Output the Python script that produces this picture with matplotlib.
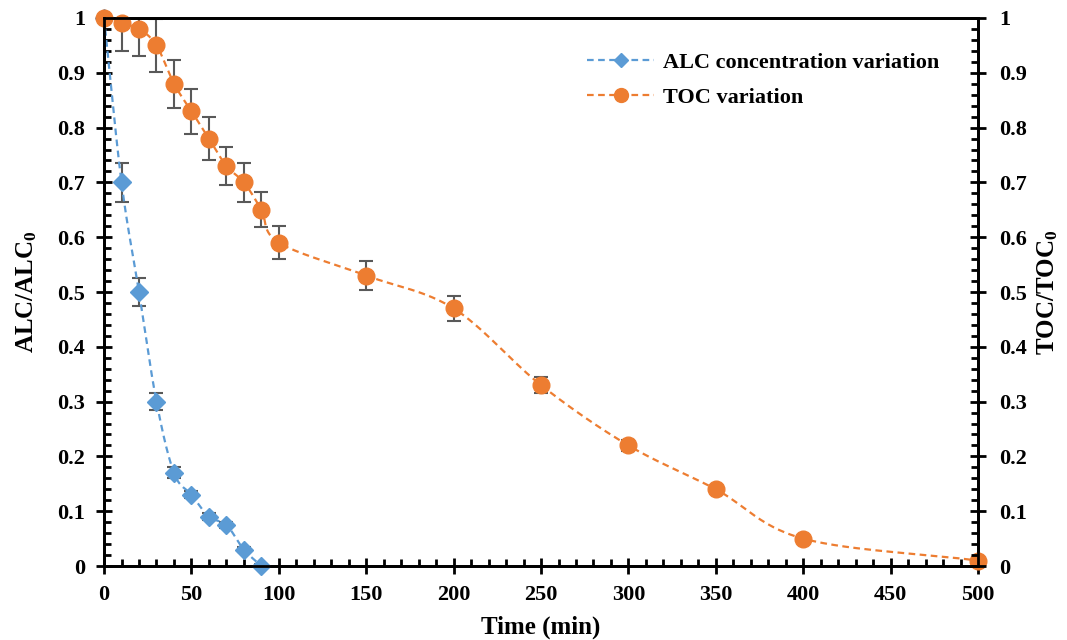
import numpy as np
import matplotlib
matplotlib.use("Agg")
import matplotlib.pyplot as plt
from matplotlib.ticker import MultipleLocator

# ---- données ----
t_alc = [0, 10, 20, 30, 40, 50, 60, 70, 80, 90]
alc = [1.0, 0.70, 0.50, 0.30, 0.17, 0.13, 0.09, 0.075, 0.03, 0.0]
alc_err = [0.0, 0.035, 0.025, 0.015, 0.01, 0.006, 0.006, 0.006, 0.005, 0.004]

t_toc = [0, 10, 20, 30, 40, 50, 60, 70, 80, 90, 100, 150, 200, 250, 300, 350, 400, 500]
toc = [1.0, 0.99, 0.98, 0.95, 0.88, 0.83, 0.78, 0.73, 0.70, 0.65, 0.59,
       0.53, 0.47, 0.33, 0.22, 0.14, 0.05, 0.01]
toc_err = [0.0, 0.05, 0.05, 0.048, 0.044, 0.041, 0.039, 0.035, 0.035, 0.032, 0.03,
           0.026, 0.023, 0.015, 0.01, 0.0, 0.0, 0.0]

BLUE = "#5B9BD5"
ORANGE = "#ED7D31"
GREY = "#595959"

plt.rcParams["font.family"] = ["Liberation Serif", "DejaVu Serif"]
plt.rcParams["font.weight"] = "bold"
plt.rcParams["mathtext.fontset"] = "custom"
plt.rcParams["mathtext.rm"] = "Liberation Serif:bold"
plt.rcParams["mathtext.it"] = "Liberation Serif:bold"
plt.rcParams["mathtext.bf"] = "Liberation Serif:bold"


def lisse(x, y, n=30):
    # courbe lissée type Excel (Catmull-Rom) pour le tracé seulement
    x = np.asarray(x, float)
    y = np.asarray(y, float)
    px = np.concatenate([[2 * x[0] - x[1]], x, [2 * x[-1] - x[-2]]])
    py = np.concatenate([[2 * y[0] - y[1]], y, [2 * y[-1] - y[-2]]])
    xs, ys = [], []
    s = np.linspace(0, 1, n)
    for i in range(1, len(px) - 2):
        for arr, out in ((px, xs), (py, ys)):
            p0, p1, p2, p3 = arr[i - 1], arr[i], arr[i + 1], arr[i + 2]
            c = 0.5 * ((2 * p1) + (-p0 + p2) * s + (2 * p0 - 5 * p1 + 4 * p2 - p3) * s ** 2
                       + (-p0 + 3 * p1 - 3 * p2 + p3) * s ** 3)
            out.extend(c)
    return np.array(xs), np.array(ys)


fig = plt.figure(figsize=(10.67, 6.4), dpi=100)
ax = fig.add_axes([0.0975, 0.1156, 0.8191, 0.8563])

xa, ya = lisse(t_alc, alc)
xt, yt = lisse(t_toc, toc)

ax.errorbar(t_toc, toc, yerr=toc_err, fmt="none", ecolor=GREY, elinewidth=1.5,
            capsize=5, capthick=1.5, zorder=2)
ax.errorbar(t_alc, alc, yerr=alc_err, fmt="none", ecolor=GREY, elinewidth=1.5,
            capsize=5, capthick=1.5, zorder=2)

ax.plot(xa, ya, color=BLUE, ls=(0, (3, 2)), lw=1.6, zorder=3)
ax.plot(xt, yt, color=ORANGE, ls=(0, (3, 2)), lw=1.6, zorder=3)
ax.plot(t_alc, alc, ls="none", marker="D", ms=9, color=BLUE, zorder=4, clip_on=False)
ax.plot(t_toc, toc, ls="none", marker="o", ms=12, color=ORANGE, zorder=5, clip_on=False)

# entrées de légende
ax.plot([], [], color=BLUE, ls=(0, (3, 2)), lw=1.6, marker="D", ms=7,
        label="ALC concentration variation")
ax.plot([], [], color=ORANGE, ls=(0, (3, 2)), lw=1.6, marker="o", ms=10,
        label="TOC variation")

ax.set_xlim(0, 500)
ax.set_ylim(0, 1)
ax.xaxis.set_major_locator(MultipleLocator(50))
ax.xaxis.set_minor_locator(MultipleLocator(10))
ax.yaxis.set_major_locator(MultipleLocator(0.1))
ax.yaxis.set_minor_locator(MultipleLocator(0.02))

fmt = lambda v, p: "0" if abs(v) < 1e-9 else ("1" if abs(v - 1) < 1e-9 else f"{v:.1f}")
ax.yaxis.set_major_formatter(plt.FuncFormatter(fmt))

ax2 = ax.twinx()
ax2.set_ylim(0, 1)
ax2.yaxis.set_major_locator(MultipleLocator(0.1))
ax2.yaxis.set_minor_locator(MultipleLocator(0.02))
ax2.yaxis.set_major_formatter(plt.FuncFormatter(fmt))

for a in (ax, ax2):
    for sp in a.spines.values():
        sp.set_linewidth(2)
    a.tick_params(which="major", direction="inout", length=11, width=2, labelsize=16)
    a.tick_params(which="minor", direction="in", length=5, width=2)
ax.tick_params(axis="x", which="both", top=False, pad=8)
ax.tick_params(axis="y", which="both", right=False, pad=8)
ax2.tick_params(axis="x", which="both", top=False, bottom=False)
ax2.tick_params(axis="y", which="both", left=False, pad=10)

ax.set_xlabel("Time (min)", fontsize=18, fontweight="bold", labelpad=8)
ax.set_ylabel(r"ALC/ALC$_0$", fontsize=18, fontweight="bold", labelpad=13)
ax2.set_ylabel(r"TOC/TOC$_0$", fontsize=18, fontweight="bold", labelpad=6)

ax.legend(loc="upper left", bbox_to_anchor=(0.535, 0.965), frameon=False, fontsize=16,
          handlelength=3.0, handletextpad=0.4, labelspacing=0.65, borderaxespad=0.3)

fig.savefig("out.png", dpi=100)
